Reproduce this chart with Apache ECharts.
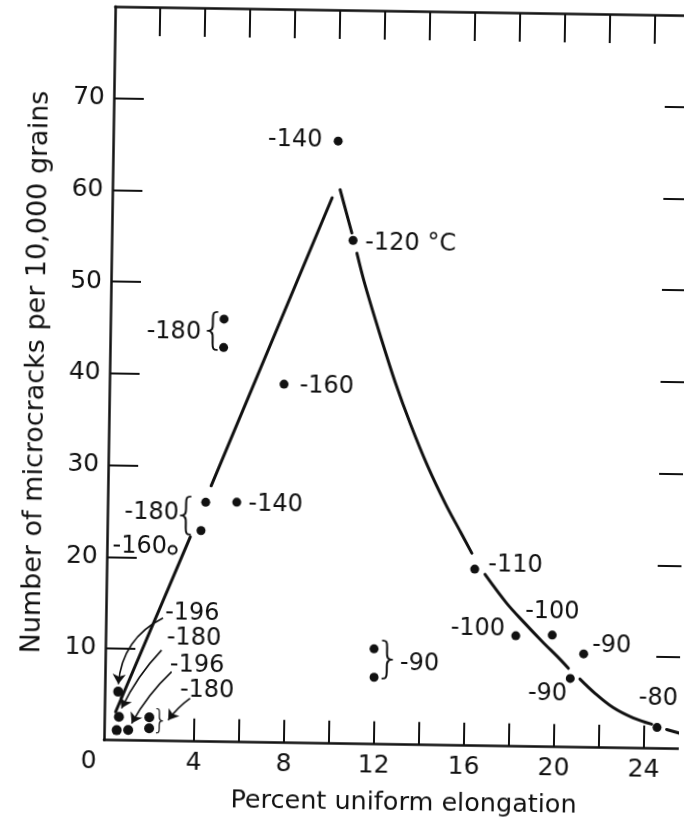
<!DOCTYPE html>
<html>
<head>
<meta charset="utf-8">
<script src="https://cdn.jsdelivr.net/npm/echarts@6/dist/echarts.min.js"></script>
<style>
html,body{margin:0;padding:0;background:#fff;overflow:hidden}
#chart{width:684px;height:827px;transform:rotate(0.88deg);transform-origin:50% 50%}
</style>
</head>
<body>
<div id="chart"></div>
<script>
// ---------- data ----------
const xTickLabels = [0, 4, 8, 12, 16, 20, 24];
const xBottomTicks = [4, 6, 8, 10, 12, 14, 16, 18, 20, 22, 24];
const xTopTicks = [2, 4, 6, 8, 10, 12, 14, 16, 18, 20, 22, 24];
const yTickLabels = [10, 20, 30, 40, 50, 60, 70];

// measured points (percent elongation, microcracks per 10,000 grains)
const dotX = [10.0, 10.73, 5.05, 5.05, 7.76, 4.36, 4.17, 5.74, 16.36, 18.23, 19.85, 21.26, 20.68, 24.57, 11.94, 11.96];
const dotY = [65.7, 54.9, 46.1, 43.0, 39.1, 26.1, 23.0, 26.15, 19.26, 12.06, 12.2, 10.2, 7.5, 2.3, 10.4, 7.3];
const clusterX = [0.6, 0.65, 0.56, 1.07, 2.0, 2.0];
const clusterY = [5.3, 2.56, 1.1, 1.13, 2.55, 1.35];
const openX = [2.92];
const openY = [20.84];

// fitted curve, drawn as broken segments (as in the original)
const leftSeg1 = [[0.5, 3.1], [3.7, 22.3]];
const leftSeg2 = [[4.59, 27.9], [9.77, 59.5]];
const rightSeg1 = [[10.12, 60.4], [10.67, 55.7]];
const rightSeg2 = [[10.91, 53.5], [11.3, 50.0], [12.0, 44.6], [12.7, 39.5], [13.4, 35.0], [14.2, 30.4], [15.0, 26.4], [15.7, 23.3], [16.22, 21.0]];
const rightSeg3 = [[16.82, 18.7], [17.8, 15.6], [18.6, 13.5], [19.4, 11.5], [20.2, 9.6], [20.59, 8.6]];
const rightSeg4 = [[21.11, 7.45], [21.8, 5.9], [22.6, 4.4], [23.5, 3.3], [24.33, 2.65]];
const rightSeg5 = [[25.0, 2.1], [25.9, 1.5]];

// temperature annotations (text)
const tempTexts = ['-140', '-120 °C', '-180', '-160', '-180', '-160', '-140', '-110', '-100', '-100', '-90', '-90', '-80', '-90', '-196', '-180', '-196', '-180'];
const braceTexts = ['{', '{', '}', '}'];

// ---------- annotation layout (data coordinates) ----------
const tempAnchor = [[9.3, 65.7], [11.27, 54.6], [4.04, 44.6], [8.45, 38.9], [3.18, 24.9], [2.67, 21.2], [6.26, 25.9], [16.96, 19.75], [17.75, 12.8], [18.63, 14.7], [21.63, 11.1], [20.55, 5.8], [25.48, 5.45], [13.1, 8.8], [2.63, 13.9], [2.72, 11.2], [2.88, 8.3], [3.34, 5.58]];
const tempAlign = ['right', 'left', 'right', 'left', 'right', 'right', 'left', 'left', 'right', 'left', 'left', 'right', 'right', 'left', 'left', 'left', 'left', 'left'];
const braceAnchor = [[4.57, 44.6], [3.5, 24.35], [12.57, 9.0], [2.48, 2.17]];
const braceSize = [42, 42, 42, 26];
// leader arrows from the lower-left labels to their points
const arrowFrom = [[2.54, 13.4], [2.5, 9.9], [2.96, 7.56], [3.8, 4.7]];
const arrowTo = [[0.6, 6.13], [0.76, 3.5], [1.22, 1.87], [2.84, 2.29]];
const arrowCurve = [-0.28, -0.08, -0.08, -0.08];

// ---------- chart ----------
const INK = '#111';
const FONT = 'DejaVu Sans';
const zip = (xs, ys) => xs.map((x, i) => [x, ys[i]]);

const segs = [leftSeg1, leftSeg2, rightSeg1, rightSeg2, rightSeg3, rightSeg4, rightSeg5];
const lineSeries = segs.map((s, i) => ({
  type: 'line', data: s, showSymbol: false, symbol: 'none', silent: true, smooth: i >= 2 ? 0.35 : false,
  lineStyle: { color: INK, width: 3, cap: 'round', opacity: 1 }, z: 2
}));

const annData = tempTexts.map((t, i) => ({
  value: tempAnchor[i],
  label: { show: true, formatter: () => t, position: [0, 0], align: tempAlign[i], verticalAlign: 'middle',
           fontSize: 24, fontFamily: FONT, color: INK, opacity: 1 }
})).concat(braceTexts.map((t, i) => ({
  value: braceAnchor[i],
  label: { show: true, formatter: () => t, position: [0, 0], align: 'center', verticalAlign: 'middle',
           fontSize: braceSize[i], fontFamily: FONT, fontWeight: 200, color: INK, opacity: 1 }
})));

const arrowData = arrowFrom.map((f, i) => ({
  coords: [f, arrowTo[i]],
  lineStyle: { curveness: arrowCurve[i] }
}));

const chart = echarts.init(document.getElementById('chart'), null, { renderer: 'canvas' });
chart.setOption({
  backgroundColor: '#fff',
  animation: false,
  grid: { left: 109, top: 10, right: -10, bottom: 83.3, outerBoundsMode: 'none', containLabel: false },
  xAxis: [{
    type: 'value', min: 0, max: 26, interval: 2, position: 'bottom',
    name: 'Percent uniform elongation', nameLocation: 'middle', nameGap: 46,
    nameTextStyle: { fontSize: 25.5, fontFamily: FONT, color: INK, padding: [0, 0, 0, 16] },
    axisLine: { show: true, onZero: false, lineStyle: { color: INK, width: 2.5 } },
    axisTick: { show: true, inside: true, length: 23, customValues: xBottomTicks, lineStyle: { color: INK, width: 2 } },
    axisLabel: { show: true, customValues: xTickLabels, fontSize: 25, fontFamily: FONT, color: INK, margin: 9,
      formatter: v => v === 0 ? '{z|0}' : String(v),
      rich: { z: { fontSize: 25, fontFamily: FONT, color: INK, padding: [0, 30, 0, 0] } } },
    splitLine: { show: false }
  }, {
    type: 'value', min: 0, max: 26, interval: 2, position: 'top',
    axisLine: { show: true, onZero: false, lineStyle: { color: INK, width: 2.5 } },
    axisTick: { show: true, inside: true, length: 29, customValues: xTopTicks, lineStyle: { color: INK, width: 2 } },
    axisLabel: { show: false }, splitLine: { show: false }
  }],
  yAxis: [{
    type: 'value', min: 0, max: 80, interval: 10, position: 'left',
    name: 'Number of microcracks per 10,000 grains', nameLocation: 'middle', nameGap: 60, nameRotate: 90,
    nameTextStyle: { fontSize: 27, fontFamily: FONT, color: INK, padding: [0, 0, 0, 0] },
    axisLine: { show: true, onZero: false, lineStyle: { color: INK, width: 2.5 } },
    axisTick: { show: true, inside: true, length: 30, customValues: yTickLabels, lineStyle: { color: INK, width: 2 } },
    axisLabel: { show: true, customValues: yTickLabels, fontSize: 25, fontFamily: FONT, color: INK, margin: 9 },
    splitLine: { show: false }
  }, {
    type: 'value', min: 0, max: 80, interval: 10, position: 'right',
    axisLine: { show: true, onZero: false, lineStyle: { color: INK, width: 2.5 } },
    axisTick: { show: true, inside: true, length: 34, customValues: yTickLabels, lineStyle: { color: INK, width: 2 } },
    axisLabel: { show: false }, splitLine: { show: false }
  }],
  series: lineSeries.concat([
    { type: 'scatter', data: zip(dotX, dotY), symbol: 'circle', symbolSize: 9, itemStyle: { color: INK, opacity: 1 }, silent: true, z: 3 },
    { type: 'scatter', data: zip(clusterX, clusterY), symbol: 'circle', symbolSize: 10, itemStyle: { color: INK, opacity: 1 }, silent: true, z: 3 },
    { type: 'scatter', data: zip(openX, openY), symbol: 'emptyCircle', symbolSize: 8, itemStyle: { color: INK, borderWidth: 1.5, opacity: 1 }, silent: true, z: 3 },
    { type: 'lines', coordinateSystem: 'cartesian2d', xAxisIndex: 0, yAxisIndex: 0, silent: true, z: 3,
      symbol: ['none', 'arrow'], symbolSize: [0, 10],
      lineStyle: { color: INK, width: 1.6, opacity: 1 }, data: arrowData },
    { type: 'scatter', data: annData, symbolSize: 0, silent: true, z: 4, itemStyle: { opacity: 1 } }
  ])
});
</script>
</body>
</html>
